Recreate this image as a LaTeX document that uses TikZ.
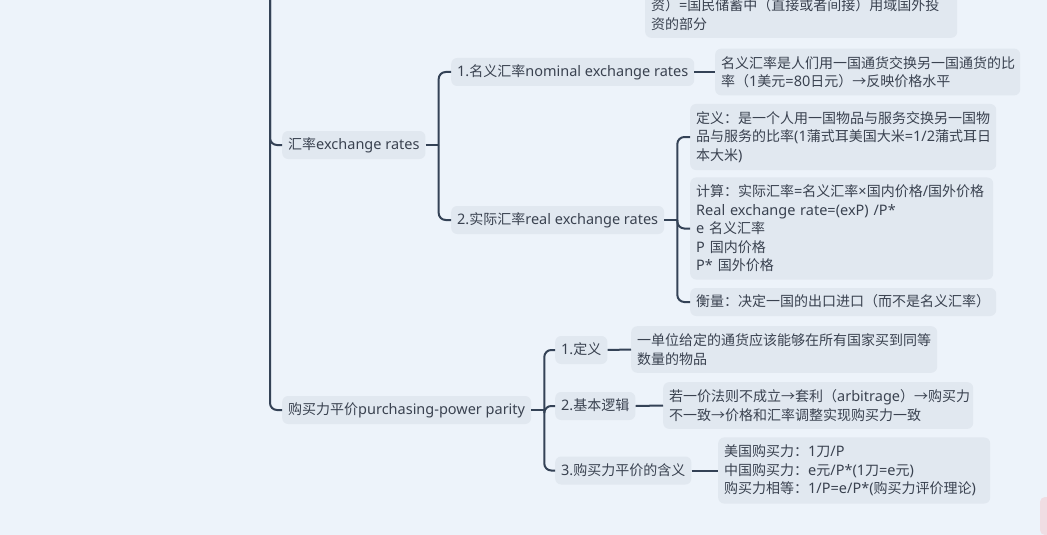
\documentclass[tikz,border=0pt]{standalone}
\usepackage{fontspec}
\setmainfont[Scale=1.035]{Noto Sans}
\newfontfamily\cjkfont{Noto Sans CJK SC}
\newfontfamily\latfont[Scale=1.035]{Noto Sans}
\XeTeXinterchartokenstate=1
\newXeTeXintercharclass\CJKcls
\newcount\cjkcnt
\cjkcnt="3000
\loop
  \XeTeXcharclass\cjkcnt=\CJKcls
  \ifnum\cjkcnt<"9FFF \advance\cjkcnt by 1 \repeat
\cjkcnt="FF00
\loop
  \XeTeXcharclass\cjkcnt=\CJKcls
  \ifnum\cjkcnt<"FFEF \advance\cjkcnt by 1 \repeat
\XeTeXcharclass"2192=\CJKcls
\XeTeXinterchartoks 0 \CJKcls = {\cjkfont}
\XeTeXinterchartoks 4095 \CJKcls = {\cjkfont}
\XeTeXinterchartoks \CJKcls 0 = {\latfont}
\XeTeXinterchartoks \CJKcls 4095 = {\latfont}
\usetikzlibrary{calc}
\definecolor{bgc}{RGB}{237,243,250}
\definecolor{boxc}{RGB}{225,232,240}
\definecolor{linec}{RGB}{52,66,86}
\definecolor{txtc}{RGB}{58,66,80}
\definecolor{pinkc}{RGB}{240,221,227}
\tikzset{
  base/.style={fill=boxc, rounded corners=6pt, inner xsep=6pt, inner ysep=7.5pt,
    text=txtc, font=\fontsize{14}{18.5}\selectfont},
  onebox/.style={base, anchor=west, text height=11.4pt, text depth=1.6pt},
  multibox/.style={base, anchor=west, align=left, text width=#1},
  conn/.style={draw=linec, line width=2pt, rounded corners=7pt},
  stub/.style={draw=linec, line width=2pt},
}
\begin{document}
\begin{tikzpicture}[x=1pt,y=-1pt]
\useasboundingbox (0,0) rectangle (1047,535);
\fill[bgc] (0,0) rectangle (1047,535);
\clip (0,0) rectangle (1047,535);

% top clipped box
\node[base, anchor=south west, align=left, text width=300pt] (top) at (645,38)
  {资）=国民储蓄中（直接或者间接）用域国外投\\资的部分};

% level 1
\node[onebox] (huilv) at (282,145) {汇率exchange rates};
\node[onebox] (ppp) at (282,410) {购买力平价purchasing-power parity};

% level 2 under 汇率
\node[onebox] (nom) at (451,72) {1.名义汇率nominal exchange rates};
\node[onebox] (real) at (451,220) {2.实际汇率real exchange rates};

\node[multibox=293pt] (nomd) at (715,72)
  {名义汇率是人们用一国通货交换另一国通货的比\\率（1美元=80日元）→反映价格水平};

\node[multibox=294pt] (def) at (690,137)
  {定义：是一个人用一国物品与服务交换另一国物\\品与服务的比率(1蒲式耳美国大米=1/2蒲式耳日\\本大米)};
\node[multibox=291pt] (calc) at (690,228.5)
  {计算：实际汇率=名义汇率×国内价格/国外价格\\Real exchange rate=(exP) /P*\\e 名义汇率\\P 国内价格\\P* 国外价格};
\node[onebox] (meas) at (690,302) {衡量：决定一国的出口进口（而不是名义汇率）};

% level 2 under PPP
\node[onebox] (p1) at (555,350) {1.定义};
\node[onebox] (p2) at (555,406) {2.基本逻辑};
\node[onebox] (p3) at (555,470.5) {3.购买力平价的含义};

\node[multibox=294pt] (p1d) at (631,349.5)
  {一单位给定的通货应该能够在所有国家买到同等\\数量的物品};
\node[multibox=298pt] (p2d) at (663,405.5)
  {若一价法则不成立→套利（arbitrage）→购买力\\不一致→价格和汇率调整实现购买力一致};
\node[multibox=260pt] (p3d) at (718,470.5)
  {美国购买力：1刀/P\\中国购买力：e元/P*(1刀=e元)\\购买力相等：1/P=e/P*(购买力评价理论)};

% pink edge box
\fill[pinkc, rounded corners=5pt] (1040,497) rectangle (1060,535);

% connectors
\coordinate (root) at (270,-20);
\draw[conn] (root) |- (huilv.west);
\draw[conn] (root) |- (ppp.west);

\draw[stub] (huilv.east) -- ++(13,0) coordinate (j1);
\draw[conn] (j1) |- (nom.west);
\draw[conn] (j1) |- (real.west);

\draw[stub] (nom.east) -- (nomd.west);

\draw[stub] (real.east) -- ++(13,0) coordinate (j2);
\draw[conn] (j2) |- (def.west);
\draw[conn] (j2) |- (calc.west);
\draw[conn] (j2) |- (meas.west);

\draw[stub] (ppp.east) -- ++(13,0) coordinate (j3);
\draw[conn] (j3) |- (p1.west);
\draw[conn] (j3) |- (p2.west);
\draw[conn] (j3) |- (p3.west);

\draw[stub] (p1.east) -- (p1d.west);
\draw[stub] (p2.east) -- (p2d.west);
\draw[stub] (p3.east) -- (p3d.west);
\end{tikzpicture}
\end{document}
